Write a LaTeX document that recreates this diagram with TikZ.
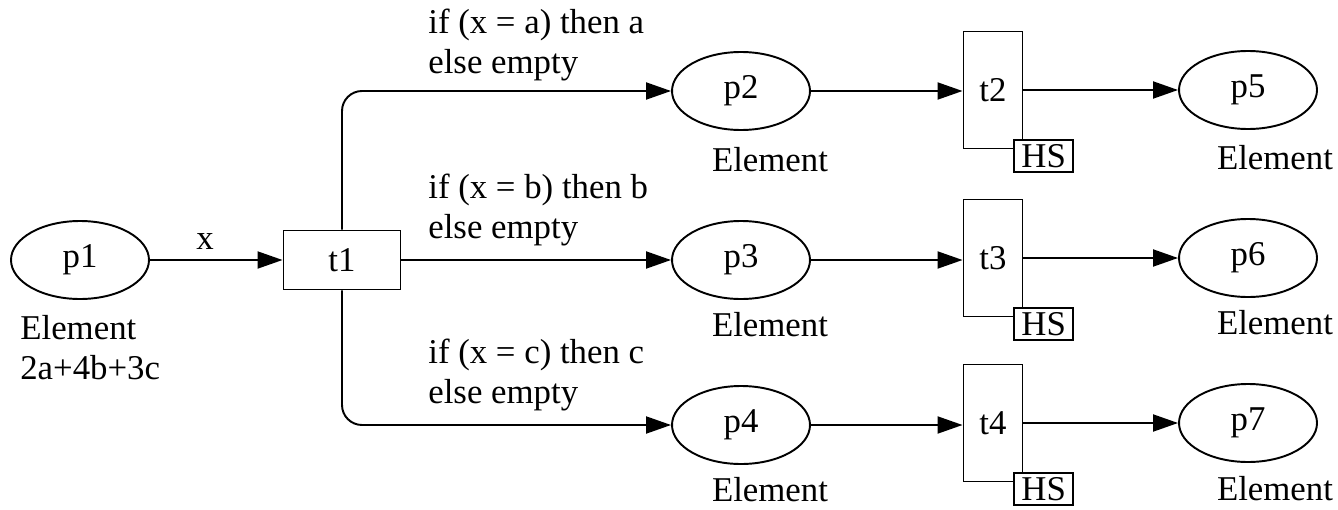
\documentclass[tikz,border=0pt]{standalone}
\usepackage{fontspec}
\setmainfont{Liberation Serif}
\usepackage{tikz}
\usetikzlibrary{arrows.meta, positioning, calc, shapes.geometric}

\begin{document}
\begin{tikzpicture}[
  place/.style={ellipse, draw, line width=1.1pt, minimum width=2.76cm, minimum height=1.56cm, inner sep=0pt},
  trans/.style={rectangle, draw, line width=1.1pt, minimum width=2.34cm, minimum height=1.18cm, inner sep=0pt},
  vtrans/.style={rectangle, draw, line width=1.1pt, minimum width=1.18cm, minimum height=2.34cm, inner sep=0pt},
  hsbox/.style={rectangle, draw, line width=0.8pt, fill=white, minimum width=1.18cm, minimum height=0.64cm, inner sep=0pt, anchor=north west},
  lbl/.style={align=left, inner sep=0pt},
  arc/.style={-{Triangle[length=0.5cm, width=0.34cm]}, line width=1.1pt},
  every node/.style={font=\fontsize{19.8}{22.7}\selectfont}
]
\useasboundingbox (0,0) rectangle (26.76,10.18);
% places
\node[place] (p1) at (1.60,4.98) {p1};
\node[place] (p2) at (14.82,8.36) {p2};
\node[place] (p3) at (14.82,4.98) {p3};
\node[place] (p4) at (14.82,1.68) {p4};
\node[place] (p5) at (24.96,8.38) {p5};
\node[place] (p6) at (24.96,5.02) {p6};
\node[place] (p7) at (24.96,1.72) {p7};
% transitions
\node[trans] (t1) at (6.84,4.98) {t1};
\node[vtrans] (t2) at (19.86,8.38) {t2};
\node[vtrans] (t3) at (19.86,5.02) {t3};
\node[vtrans] (t4) at (19.86,1.72) {t4};
\node[hsbox] (hs2) at ($(t2.south east)+(-0.2,0.2)$) {HS};
\node[hsbox] (hs3) at ($(t3.south east)+(-0.2,0.2)$) {HS};
\node[hsbox] (hs4) at ($(t4.south east)+(-0.2,0.2)$) {HS};
% colour sets
\node[lbl, anchor=west] (c1) at (0.40,3.22) {Element\\2a+4b+3c};
\node[lbl] (c2) at (15.40,6.98) {Element};
\node[lbl] (c3) at (15.40,3.68) {Element};
\node[lbl] (c4) at (15.40,0.38) {Element};
\node[lbl] (c5) at (25.50,7.02) {Element};
\node[lbl] (c6) at (25.50,3.72) {Element};
\node[lbl] (c7) at (25.50,0.40) {Element};
% arc inscriptions
\node[lbl] (ex) at (4.10,5.34) {x};
\node[lbl, anchor=west] (ga) at (8.56,9.28) {if (x = a) then a\\else empty};
\node[lbl, anchor=west] (gb) at (8.56,5.98) {if (x = b) then b\\else empty};
\node[lbl, anchor=west] (gc) at (8.56,2.68) {if (x = c) then c\\else empty};
% arcs
\draw[arc] (p1) -- (t1);
\draw[arc, rounded corners=0.4cm] (t1.north) |- (p2.west);
\draw[arc] (t1.east) -- (p3.west);
\draw[arc, rounded corners=0.4cm] (t1.south) |- (p4.west);
\draw[arc] (p2) -- (t2.west |- p2);
\draw[arc] (p3) -- (t3.west |- p3);
\draw[arc] (p4) -- (t4.west |- p4);
\draw[arc] (t2.east |- p5) -- (p5);
\draw[arc] (t3.east |- p6) -- (p6);
\draw[arc] (t4.east |- p7) -- (p7);
\end{tikzpicture}
\end{document}
